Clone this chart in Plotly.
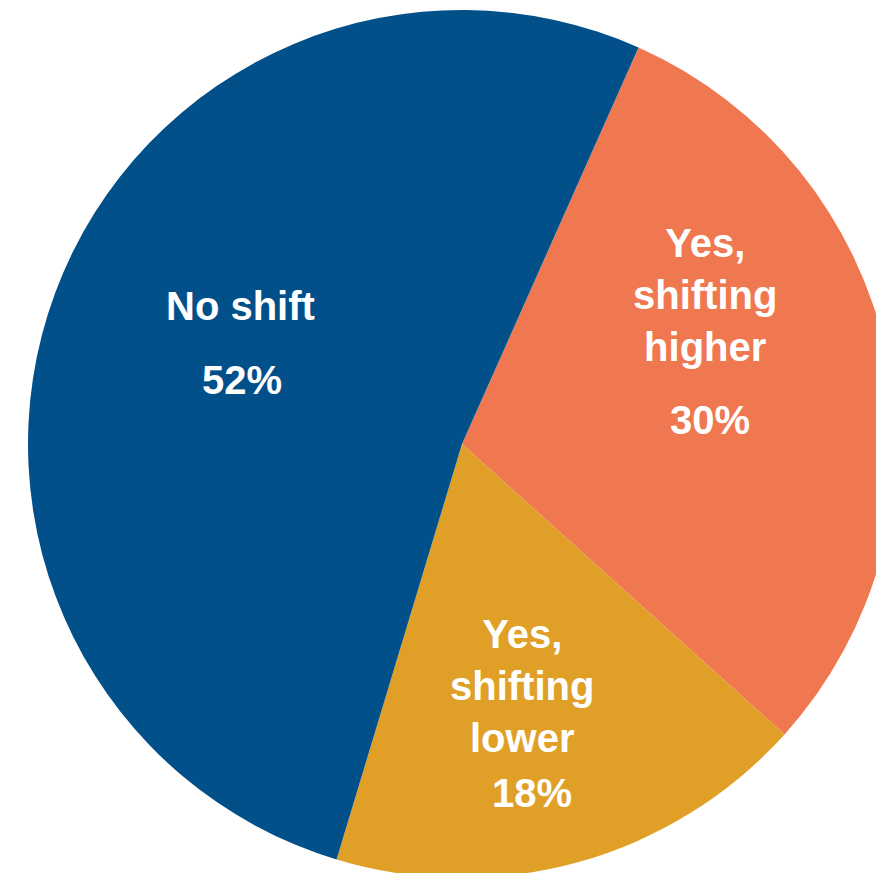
import plotly.graph_objects as go

labels = ["Yes, shifting higher", "Yes, shifting lower", "No shift"]
text_labels = ["Yes,<br>shifting<br>higher", "Yes,<br>shifting<br>lower", "No shift"]
values = [30, 18, 52]
colors = ["#F07850", "#E0A028", "#02508A"]

W, H = 900, 890
# label placement in page pixels: (label x, label y-center, percent x, percent y-center)
label_pos = [(705, 295, 710, 420), (522, 686, 532, 793), (240, 306, 242, 380)]

fig = go.Figure(go.Pie(
    labels=labels,
    values=values,
    sort=False,
    direction="clockwise",
    rotation=24,
    marker=dict(colors=colors, line=dict(width=0)),
    textinfo="none",
    hoverinfo="label+percent",
    showlegend=False,
    domain=dict(x=[28 / W, 896 / W], y=[(H - 878) / H, (H - 10) / H]),
))

total = sum(values)
font = dict(family="Liberation Sans, Arial", size=40, color="white")
for txt, v, (lx, ly, px, py) in zip(text_labels, values, label_pos):
    fig.add_annotation(x=lx / W, y=1 - ly / H, xref="paper", yref="paper",
                       text=f"<b>{txt}</b>", showarrow=False, font=font,
                       xanchor="center", yanchor="middle", align="center")
    fig.add_annotation(x=px / W, y=1 - py / H, xref="paper", yref="paper",
                       text=f"<b>{round(100 * v / total)}%</b>", showarrow=False, font=font,
                       xanchor="center", yanchor="middle", align="center")

fig.update_layout(
    width=W, height=H,
    margin=dict(l=0, r=0, t=0, b=0),
    paper_bgcolor="white",
    plot_bgcolor="white",
)
fig.write_html("out.html", config={"displayModeBar": False},
               post_script="document.body.style.overflow='hidden';document.documentElement.style.overflow='hidden';document.body.style.margin='0';")
